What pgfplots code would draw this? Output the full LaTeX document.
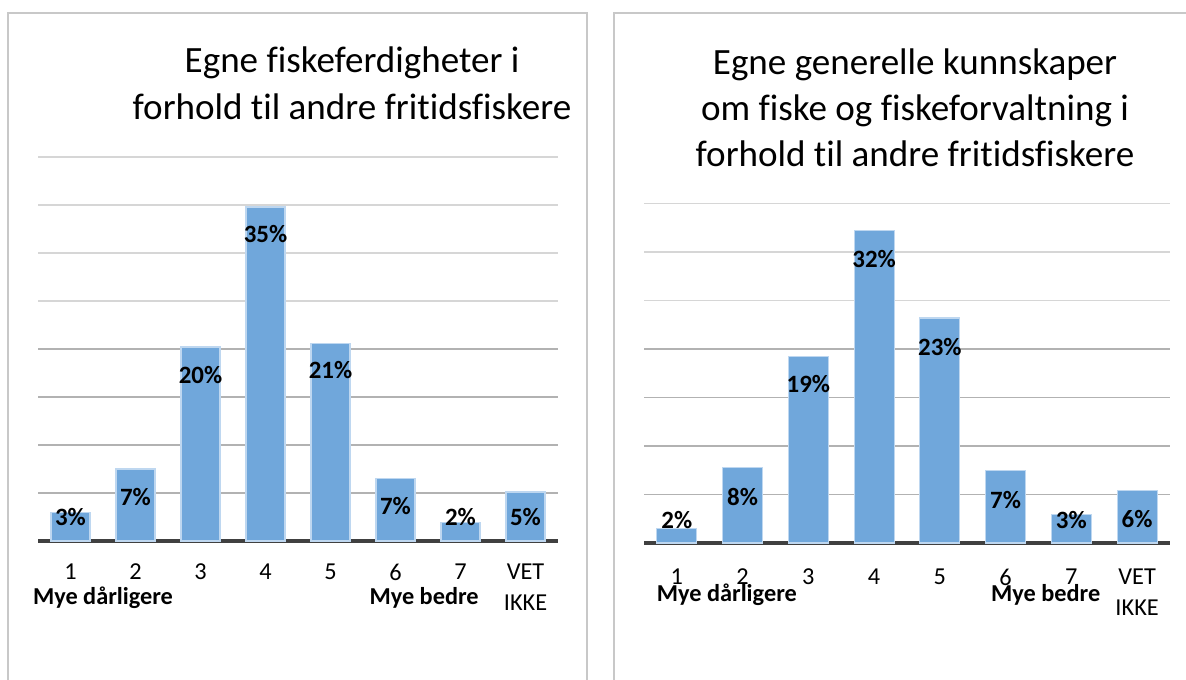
\documentclass[border=0pt]{standalone}
\usepackage{pgfplots}
\pgfplotsset{compat=1.18}
\usepackage{pgfplotstable}
\usepackage{fontspec}
\setmainfont{Carlito}[Ligatures=NoCommon]
\definecolor{barblue}{RGB}{112,167,219}
\definecolor{baredge}{RGB}{190,215,240}
\definecolor{gridlo}{RGB}{178,178,178}
\definecolor{gridhi}{RGB}{214,214,214}
\definecolor{frame}{RGB}{200,200,200}
\definecolor{baseline}{RGB}{64,64,64}

\pgfplotstableread{
x y lab ly
1 3.0  3  2.5
2 7.5  7  4.6
3 20.2 20 17.3
4 34.8 35 32.0
5 20.6 21 17.8
6 6.5  7  3.6
7 1.95 2  2.5
8 5.1  5  2.5
}\lefttab

\pgfplotstableread{
x y lab ly
1 1.5  2  2.4
2 7.8  8  4.7
3 19.2 19 16.4
4 32.2 32 29.3
5 23.2 23 20.2
6 7.5  7  4.4
7 2.9  3  2.4
8 5.4  6  2.5
}\righttab

\tikzset{boldlab/.style={font=\bfseries\fontsize{12.2}{14}\selectfont, anchor=center}}

\pgfplotsset{
  panel/.style={
    scale only axis,
    anchor=south west,
    xmin=0.5, xmax=8.5, ymin=0,
    axis x line*=bottom, axis y line*=left,
    y axis line style={draw=none},
    x axis line style={draw=baseline, line width=2bp},
    major tick length=0pt,
    xtick={1,...,8},
    xticklabels={1,2,3,4,5,6,7,VET\\IKKE},
    xticklabel style={align=center, font=\fontsize{12.2}{15.5}\selectfont, yshift=-8bp},
    yticklabels={},
    ymajorgrids,
    grid style={draw=gridlo, line width=0.8bp},
    extra tick style={grid style={draw=gridhi, line width=0.8bp}},
    extra y tick labels={},
    clip=false,
  },
  barplot/.style={ybar, bar width=19.5bp, bar shift=0pt, fill=barblue, draw=baredge, line width=0.6bp},
  labplot/.style={draw=none, mark=none, nodes near coords={\pgfplotspointmeta\%},
    point meta=explicit symbolic, nodes near coords align={center},
    every node near coord/.append style={font=\bfseries\fontsize{12.5}{14}\selectfont, text=black}},
}

\begin{document}
\begin{tikzpicture}
\clip (0,0) rectangle (593bp,-340bp);
\path[use as bounding box] (0,0) rectangle (593bp,-340bp);
\fill[white] (0,0) rectangle (593bp,-340bp);
\draw[frame, line width=1bp] (4bp,-6.5bp) rectangle (293.5bp,-360bp);
\draw[frame, line width=1bp] (307bp,-6.5bp) rectangle (610bp,-360bp);

\node[align=center, font=\fontsize{18.6}{23.5}\selectfont] at (176bp,-41.75bp)
  {Egne fiskeferdigheter i\\forhold til andre fritidsfiskere};
\node[align=center, font=\fontsize{18.6}{23}\selectfont] at (457.5bp,-54bp)
  {Egne generelle kunnskaper\\om fiske og fiskeforvaltning i\\forhold til andre fritidsfiskere};

\begin{axis}[panel, at={(19bp,-270.5bp)}, width=260bp, height=192bp, ymax=40,
  ytick={5,10,15,20}, extra y ticks={25,30,35,40}]
  \addplot[barplot] table[x=x, y=y] {\lefttab};
  \addplot[labplot] table[x=x, y=ly, meta=lab] {\lefttab};
  \node[boldlab] at (axis cs:1.5,-5.95) {Mye dårligere};
  \node[boldlab] at (axis cs:6.44,-5.95) {Mye bedre};
\end{axis}

\begin{axis}[panel, at={(322bp,-271.5bp)}, width=263bp, height=169.75bp, ymax=35,
  ytick={5,10,15,20}, extra y ticks={25,30,35},
  xticklabel style={yshift=-1.5bp}]
  \addplot[barplot, bar width=20bp] table[x=x, y=y] {\righttab};
  \addplot[labplot] table[x=x, y=ly, meta=lab] {\righttab};
  \node[boldlab] at (axis cs:1.76,-5.35) {Mye dårligere};
  \node[boldlab] at (axis cs:6.61,-5.35) {Mye bedre};
\end{axis}
\end{tikzpicture}
\end{document}
